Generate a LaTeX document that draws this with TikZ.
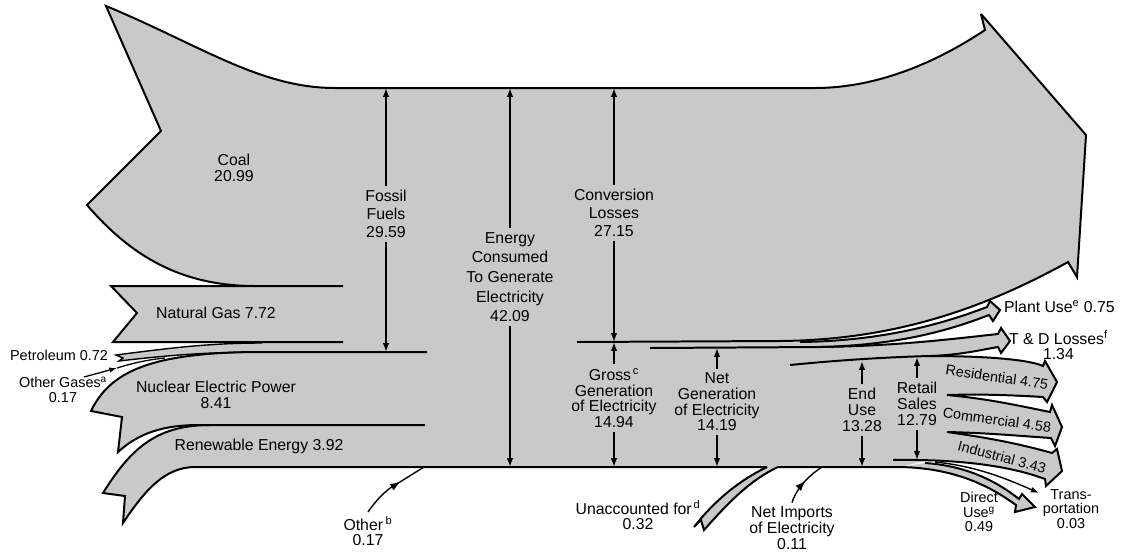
\documentclass[tikz,border=0pt]{standalone}
\usepackage{fontspec}
\setmainfont{Liberation Sans}
\usetikzlibrary{arrows.meta,decorations.markings}
\begin{document}
\begin{tikzpicture}[x=0.03cm,y=-0.03cm,
	flow/.style={fill=black!21},
	edge/.style={line width=1.7pt,miter limit=4},
	measure/.style={line width=1.3pt,-{Latex[length=7.5pt,width=5.5pt]}},
	lbl/.style={align=center,font=\fontsize{13.5pt}{13.4pt}\selectfont},
	tall/.style={align=center,font=\fontsize{13.5pt}{15.6pt}\selectfont},
	sml/.style={align=center,font=\fontsize{12.3pt}{12.6pt}\selectfont},
	midarrow/.style={postaction={decorate},decoration={markings,mark=at position #1 with {\arrow{Latex[length=9pt,width=6.5pt]}}}}]
	\useasboundingbox (0,0) rectangle (1124,551);

	\fill[flow] (106,6) .. controls (200,45) and (260,88) .. (335,88) -- (335,290) -- (255,286) .. controls (180,286) and (130,255) .. (87,205) -- (161,131) -- cycle;
	\fill[flow] (330,88) -- (815,88) .. controls (880,88) and (940,60) .. (985,30) -- (981,14) -- (1086,135) -- (1077,277) -- (1068,262) .. controls (990,305) and (900,340) .. (780,341) -- (577,342) -- (577,467) -- (330,467) -- cycle;
	\fill[flow] (111,286) -- (340,286) -- (340,342) -- (113,342) -- (137,313) -- cycle;
	\fill[flow] (116,355) .. controls (170,348) and (210,343) .. (262,343) -- (340,343) -- (340,353) -- (262,352) .. controls (210,352) and (170,355) .. (119,361) -- (123,358) -- cycle;
	\fill[flow] (91,411) .. controls (110,372) and (150,352) .. (262,352) -- (340,352) -- (340,425) -- (200,425) .. controls (165,425) and (140,432) .. (118,452) -- (122,417) -- cycle;
	\fill[flow] (103,493) .. controls (130,450) and (155,425) .. (210,425) -- (340,425) -- (340,467) -- (195,467) .. controls (165,467) and (145,490) .. (123,523) -- (125,496) -- cycle;
	\fill[flow] (577,342) -- (820,342) -- (820,352) -- (947,352) -- (947,460) -- (920,462) -- (900,467) -- (577,467) -- cycle;
	\fill[flow] (767,467) .. controls (740,480) and (715,500) .. (694,527) -- (701,520) -- (704,530) .. controls (728,503) and (750,480) .. (778,467) -- cycle;
	\fill[flow] (800,342) .. controls (880,341) and (940,325) .. (987,307) -- (990,301) -- (1000,310) -- (993,321) -- (989,315) .. controls (950,330) and (900,345) .. (820,347) -- (800,347) -- cycle;
	\fill[flow] (820,347) .. controls (900,346) and (960,338) .. (998,334) -- (1001,328) -- (1010,341) -- (1001,353) -- (998,347) .. controls (980,350) and (960,355) .. (930,356) .. controls (890,357) and (840,360) .. (790,365) -- (790,347) -- cycle;
	\fill[flow] (930,356) .. controls (990,356) and (1030,360) .. (1043,366) -- (1045,361) -- (1057,382) -- (1047,402) -- (1043,397) .. controls (1010,395) and (980,394) .. (947,395) -- (930,395) -- cycle;
	\fill[flow] (947,395) .. controls (990,399) and (1020,406) .. (1050,412) -- (1052,405) -- (1062,427) -- (1055,446) -- (1051,438) .. controls (1020,436) and (990,433) .. (947,432) -- cycle;
	\fill[flow] (947,432) .. controls (990,438) and (1020,444) .. (1052,453) -- (1057,449) -- (1062,471) -- (1046,486) -- (1045,479) .. controls (1010,466) and (960,459) .. (893,460) -- (893,432) -- cycle;
	\fill[flow] (925,463) .. controls (970,466) and (1000,484) .. (1019,499) -- (1022,494) -- (1035,507) -- (1015,512) -- (1016,505) .. controls (995,490) and (960,468) .. (900,467) -- cycle;

	\draw[edge] (343,286) -- (255,286) .. controls (180,286) and (130,255) .. (87,205) -- (161,131) -- (106,6) .. controls (200,45) and (260,88) .. (335,88) -- (815,88) .. controls (880,88) and (940,60) .. (985,30) -- (981,14) -- (1086,135) -- (1077,277) -- (1068,262) .. controls (990,305) and (900,340) .. (780,341) -- (577,342);
	\draw[edge] (255,286) -- (111,286) -- (137,313) -- (113,342) -- (343,342);
	\draw[line width=1.2pt] (262,343) .. controls (210,343) and (170,348) .. (116,355) -- (123,358) -- (119,361) .. controls (170,355) and (210,352) .. (262,352);
	\draw[edge] (427,352) -- (262,352) .. controls (150,352) and (110,372) .. (91,411) -- (122,417) -- (118,452) .. controls (140,432) and (165,425) .. (200,425) -- (425,425);
	\draw[edge] (210,425) .. controls (155,425) and (130,450) .. (103,493) -- (125,496) -- (123,523) .. controls (145,490) and (165,467) .. (195,467) -- (767,467) .. controls (740,480) and (715,500) .. (694,527) -- (701,520) -- (704,530) .. controls (728,503) and (750,480) .. (778,467) -- (900,467) .. controls (960,468) and (995,490) .. (1016,505) -- (1015,512) -- (1035,507) -- (1022,494) -- (1019,499) .. controls (1000,484) and (970,466) .. (925,463);
	\draw[edge] (650,348) -- (820,347) .. controls (900,345) and (950,330) .. (989,315) -- (993,321) -- (1000,310) -- (990,301) -- (987,307) .. controls (940,325) and (880,341) .. (800,342);
	\draw[edge] (820,347) .. controls (900,346) and (960,338) .. (998,334) -- (1001,328) -- (1010,341) -- (1001,353) -- (998,347) .. controls (980,350) and (960,355) .. (930,356) .. controls (890,357) and (840,360) .. (790,365);
	\draw[edge] (930,356) .. controls (990,356) and (1030,360) .. (1043,366) -- (1045,361) -- (1057,382) -- (1047,402) -- (1043,397) .. controls (1010,395) and (980,394) .. (947,395) .. controls (990,399) and (1020,406) .. (1050,412) -- (1052,405) -- (1062,427) -- (1055,446) -- (1051,438) .. controls (1020,436) and (990,433) .. (947,432) .. controls (990,438) and (1020,444) .. (1052,453) -- (1057,449) -- (1062,471) -- (1046,486) -- (1045,479) .. controls (1010,466) and (960,459) .. (893,460);
	\draw[line width=1.2pt,-{Latex[length=7pt,width=5pt]}] (935,462) .. controls (975,466) and (1005,478) .. (1039,493);

	\coordinate (gas foot) at (84,377);
	\coordinate (gas tip) at (117,368);
	\draw[line width=1.1pt,-{Latex[length=6.5pt,width=4.5pt]}] (gas foot) -- (gas tip);
	\draw[line width=1.1pt] (gas tip) .. controls (130,364) and (145,360) .. (165,358);

	\node[lbl] (coal) at (234,168) {Coal\\20.99};
	\node[lbl] (gas) at (216,313) {Natural Gas 7.72};
	\node[sml,anchor=east] (petrol) at (112,355) {Petroleum 0.72};
	\node[sml] (gases) at (63,390) {Other Gases\textsuperscript{a}\\0.17};
	\node[lbl] (nuclear) at (216,395) {Nuclear Electric Power\\8.41};
	\node[lbl] (renew) at (259,446) {Renewable Energy 3.92};

	\coordinate (fossil up) at (386,88);
	\coordinate (fossil down) at (386,352);
	\node[tall] (fossil) at (386,214) {Fossil\\Fuels\\29.59};
	\draw[measure] (fossil) -- (fossil up);
	\draw[measure] (fossil) -- (fossil down);

	\coordinate (consumed up) at (510,88);
	\coordinate (consumed down) at (510,467);
	\node[tall,font=\fontsize{13.5pt}{16.8pt}\selectfont] (consumed) at (510,277) {Energy\\Consumed\\To Generate\\Electricity\\42.09};
	\draw[measure] (consumed) -- (consumed up);
	\draw[measure] (consumed) -- (consumed down);

	\coordinate (losses up) at (614,88);
	\coordinate (losses down) at (614,342);
	\node[tall] (losses) at (614,213) {Conversion\\Losses\\27.15};
	\draw[measure] (losses) -- (losses up);
	\draw[measure] (losses) -- (losses down);

	\coordinate (gross up) at (614,342);
	\coordinate (gross down) at (614,467);
	\node[lbl] (gross) at (614,398) {Gross\textsuperscript{\,c}\\Generation\\of Electricity\\14.94};
	\draw[measure] (gross) -- (gross up);
	\draw[measure] (gross) -- (gross down);

	\coordinate (netgen up) at (717,348);
	\coordinate (netgen down) at (717,467);
	\node[lbl] (netgen) at (717,402) {Net\\Generation\\of Electricity\\14.19};
	\draw[measure] (netgen) -- (netgen up);
	\draw[measure] (netgen) -- (netgen down);

	\coordinate (enduse up) at (862,361);
	\coordinate (enduse down) at (862,467);
	\node[lbl] (enduse) at (862,410) {End\\Use\\13.28};
	\draw[measure] (enduse) -- (enduse up);
	\draw[measure] (enduse) -- (enduse down);

	\coordinate (retail up) at (917,357);
	\coordinate (retail down) at (917,460);
	\node[lbl] (retail) at (917,404) {Retail\\Sales\\12.79};
	\draw[measure] (retail) -- (retail up);
	\draw[measure] (retail) -- (retail down);

	\coordinate (other end) at (424,467);
	\node[lbl] (other) at (368,531) {Other\,\textsuperscript{b}\\0.17};
	\draw[line width=1.2pt,midarrow=0.62] (other.north) .. controls (380,495) and (390,487) .. (400,482) -- (other end);

	\node[lbl] (unacc) at (638,515) {Unaccounted for\textsuperscript{\,d}\\0.32};

	\coordinate (imports end) at (822,467);
	\node[lbl] (imports) at (792,528) {Net Imports\\of Electricity\\0.11};
	\draw[line width=1.2pt,midarrow=0.55] (imports.north) .. controls (795,492) and (805,478) .. (imports end);

	\node[lbl,anchor=west] (plant) at (1000,307) {Plant Use\textsuperscript{e} 0.75};
	\node[lbl,anchor=west] (tdloss) at (1005,345) {T \& D Losses\textsuperscript{f}\\1.34};
	\node[sml,rotate=-8] (resid) at (997,377) {Residential 4.75};
	\node[sml,rotate=-8] (comm) at (997,420) {Commercial 4.58};
	\node[sml,rotate=-15] (indus) at (1002,457) {Industrial 3.43};
	\node[sml] (direct) at (979,512) {Direct\\Use\textsuperscript{g}\\0.49};
	\node[sml] (trans) at (1071,509) {Trans-\\portation\\0.03};

\end{tikzpicture}
\end{document}
